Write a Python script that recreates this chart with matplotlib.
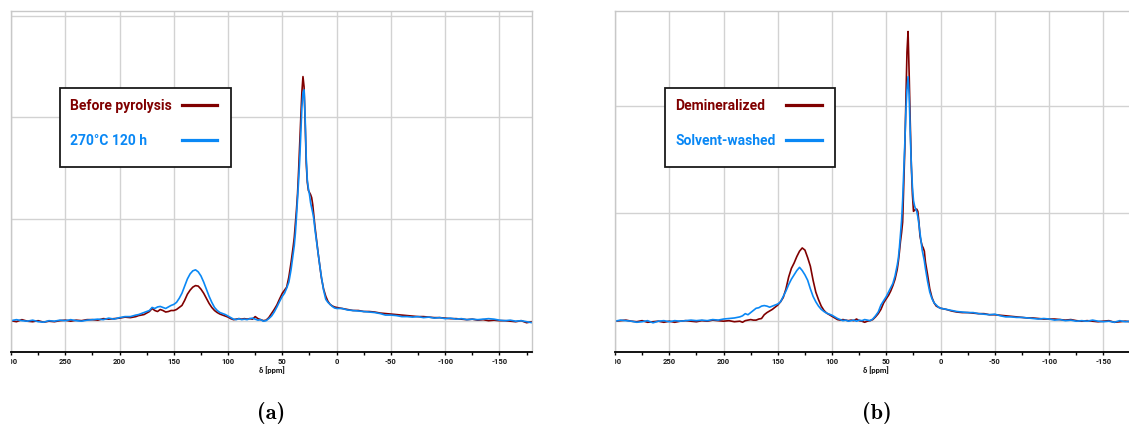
import os
import matplotlib
matplotlib.use("Agg")
import matplotlib.pyplot as plt
from matplotlib.patches import Rectangle
from matplotlib.lines import Line2D
from matplotlib.ticker import MultipleLocator
from matplotlib.transforms import Bbox, TransformedBbox
from matplotlib.font_manager import FontProperties

plt.rcParams["font.family"] = ["Roboto", "DejaVu Sans"]
plt.rcParams["axes.unicode_minus"] = False

# chemical shift sampling (ppm), shared by all spectra
ppm = [300, 295, 290, 285, 280, 275, 270, 265, 260, 255, 250, 245, 240, 235, 230, 225,
       220, 215, 210, 205, 200, 195, 190,
       185, 182.5, 180, 177.5, 175, 172.5, 170, 167.5, 165, 162.5, 160, 157.5, 155, 152.5,
       150, 147.5, 145, 142.5, 140, 137.5, 135, 132.5, 130, 127.5, 125, 122.5, 120, 117.5,
       115, 112.5, 110, 107.5, 105, 102.5, 100, 97.5, 95, 92.5, 90, 87.5, 85, 82.5, 80,
       77.5, 75, 72.5, 70, 67.5, 65, 62.5, 60, 57.5, 55, 52.5, 50,
       48, 46, 44, 42, 40, 39, 38, 37, 36, 35, 34, 33, 32, 31, 30, 29, 28, 27, 26, 25, 24,
       23, 22, 21, 20, 19, 18, 17, 16, 15, 14, 12, 10, 8, 6, 4, 2, 0,
       -5, -10, -15, -20, -25, -30, -35, -40, -45, -50, -55, -60, -65, -70, -75, -80, -85,
       -90, -95, -100, -105, -110, -115, -120, -125, -130, -135, -140, -145, -150, -155,
       -160, -165, -170, -175, -180]

# (a) before pyrolysis vs. 270 °C / 120 h
a_before = [0.00, -0.01, 0.01, -0.005, -0.01, 0.0, -0.015, -0.005, -0.01, 0.0, 0.005, -0.005,
            0.005, 0.0, 0.01, 0.01, 0.005, 0.02, 0.015, 0.02, 0.025, 0.035, 0.03,
            0.04, 0.05, 0.055, 0.06, 0.075, 0.09, 0.12, 0.10, 0.09, 0.11, 0.10, 0.085, 0.09, 0.10,
            0.10, 0.11, 0.13, 0.15, 0.20, 0.26, 0.30, 0.33, 0.345, 0.34, 0.31, 0.27, 0.22, 0.17,
            0.13, 0.10, 0.08, 0.065, 0.055, 0.045, 0.035, 0.02, 0.01, 0.015, 0.02, 0.015, 0.02,
            0.015, 0.02, 0.015, 0.04, 0.02, 0.01, 0.0, 0.005, 0.03, 0.07, 0.11, 0.155, 0.215, 0.27,
            0.30, 0.33, 0.43, 0.57, 0.73, 0.82, 0.95, 1.09, 1.25, 1.48, 1.75, 2.0, 2.25, 2.40,
            2.30, 1.95, 1.55, 1.36, 1.28, 1.26, 1.24, 1.21, 1.14, 1.03, 0.93, 0.84, 0.75, 0.66,
            0.58, 0.50, 0.42, 0.31, 0.24, 0.19, 0.16, 0.145, 0.135, 0.13,
            0.12, 0.11, 0.10, 0.10, 0.09, 0.09, 0.085, 0.075, 0.07, 0.065, 0.06, 0.055, 0.05,
            0.045, 0.04, 0.04, 0.035, 0.03, 0.03, 0.025, 0.02, 0.02, 0.015, 0.01, 0.015, 0.005,
            0.01, 0.0, 0.005, 0.0, 0.0, -0.005, -0.01, 0.0, -0.02, -0.01]
a_heated = [0.0, 0.01, 0.0, -0.005, 0.005, -0.01, -0.015, 0.0, -0.005, 0.005, 0.0, 0.01,
            0.0, -0.005, 0.005, 0.01, 0.015, 0.01, 0.025, 0.015, 0.03, 0.04, 0.04,
            0.055, 0.06, 0.07, 0.08, 0.09, 0.10, 0.13, 0.12, 0.135, 0.14, 0.13, 0.12, 0.135, 0.15,
            0.16, 0.18, 0.22, 0.27, 0.34, 0.41, 0.46, 0.49, 0.50, 0.48, 0.44, 0.38, 0.31, 0.24,
            0.18, 0.13, 0.10, 0.08, 0.07, 0.06, 0.045, 0.03, 0.015, 0.01, 0.02, 0.01, 0.015,
            0.01, 0.02, 0.025, 0.015, 0.005, 0.01, -0.005, 0.0, 0.02, 0.045, 0.085, 0.135, 0.19,
            0.24,
            0.27, 0.32, 0.38, 0.50, 0.66, 0.74, 0.86, 1.02, 1.2, 1.38, 1.58, 1.85, 2.10, 2.24,
            2.27, 2.0, 1.6, 1.38, 1.30, 1.24, 1.16, 1.11, 1.06, 1.0, 0.90, 0.82, 0.74, 0.66,
            0.58, 0.50, 0.43, 0.30, 0.21, 0.18, 0.16, 0.14, 0.125, 0.12,
            0.12, 0.105, 0.10, 0.095, 0.09, 0.085, 0.08, 0.07, 0.055, 0.055, 0.05, 0.04, 0.04,
            0.035, 0.04, 0.03, 0.035, 0.025, 0.03, 0.02, 0.025, 0.015, 0.02, 0.01, 0.015, 0.01,
            0.015, 0.02, 0.015, 0.005, 0.0, 0.005, -0.005, 0.0, -0.01, -0.02]

# (b) demineralized vs. solvent-washed
b_demin = [0.0, 0.005, 0.01, 0.0, -0.005, 0.005, -0.01, -0.005, 0.0, -0.01, 0.0, -0.01,
           0.0, 0.005, 0.0, -0.005, 0.005, 0.0, 0.01, 0.005, 0.0, 0.005, -0.005,
           0.0, -0.01, 0.005, 0.01, 0.015, 0.01, 0.01, 0.02, 0.025, 0.06, 0.08, 0.095, 0.11, 0.13,
           0.15, 0.18, 0.22, 0.30, 0.41, 0.49, 0.54, 0.60, 0.65, 0.68, 0.66, 0.59, 0.51, 0.38,
           0.27, 0.20, 0.14, 0.10, 0.075, 0.06, 0.045, 0.03, 0.015, 0.01, 0.015, 0.01, 0.005,
           0.01, 0.005, 0.02, 0.005, 0.0, -0.01, 0.0, 0.005, 0.015, 0.04, 0.07, 0.11, 0.17, 0.21,
           0.24, 0.28, 0.33, 0.39, 0.48, 0.55, 0.64, 0.74, 0.82, 0.92, 1.25, 1.6, 2.05, 2.50,
           2.69, 2.3, 1.85, 1.45, 1.18, 1.02, 1.03, 1.04, 1.04, 1.02, 0.92, 0.79, 0.74, 0.70,
           0.68, 0.65, 0.55, 0.43, 0.30, 0.22, 0.17, 0.14, 0.13, 0.12,
           0.11, 0.095, 0.085, 0.08, 0.08, 0.075, 0.07, 0.07, 0.06, 0.06, 0.055, 0.05, 0.045,
           0.04, 0.035, 0.03, 0.03, 0.025, 0.02, 0.02, 0.02, 0.015, 0.01, 0.015, 0.005, 0.0,
           0.005, 0.0, -0.005, 0.0, 0.005, -0.01, -0.005, 0.0, -0.005, 0.0]
b_solvent = [0.0, 0.01, 0.005, 0.0, -0.01, -0.005, 0.005, -0.015, 0.0, 0.005, -0.005, 0.005,
             0.0, 0.005, 0.01, 0.005, 0.01, 0.005, 0.015, 0.01, 0.02, 0.025, 0.03,
             0.04, 0.05, 0.07, 0.06, 0.08, 0.10, 0.12, 0.125, 0.14, 0.145, 0.14, 0.13, 0.14, 0.15,
             0.16, 0.18, 0.23, 0.28, 0.34, 0.39, 0.43, 0.47, 0.50, 0.47, 0.43, 0.38, 0.30, 0.23,
             0.18, 0.14, 0.11, 0.09, 0.075, 0.065, 0.055, 0.04, 0.025, 0.015, 0.005, 0.01, 0.0,
             0.005, 0.01, 0.0, 0.01, 0.005, 0.015, 0.01, 0.005, 0.02, 0.05, 0.085, 0.15, 0.19,
             0.23,
             0.27, 0.31, 0.35, 0.42, 0.52, 0.58, 0.68, 0.80, 0.93, 1.12, 1.38, 1.65, 1.95, 2.15,
             2.27, 2.1, 1.75, 1.45, 1.25, 1.12, 1.07, 1.04, 1.02, 0.97, 0.90, 0.82, 0.74, 0.66,
             0.61, 0.56, 0.49, 0.37, 0.27, 0.21, 0.17, 0.15, 0.13, 0.12,
             0.11, 0.10, 0.09, 0.085, 0.08, 0.08, 0.07, 0.065, 0.06, 0.065, 0.05, 0.04, 0.04,
             0.035, 0.035, 0.03, 0.025, 0.02, 0.025, 0.02, 0.01, 0.015, 0.005, 0.01, 0.0, 0.005,
             0.0, 0.01, 0.0, -0.005, 0.0, -0.01, 0.005, -0.005, 0.0, -0.01]

labels_a = ["Before pyrolysis", "270°C 120 h"]
labels_b = ["Demineralized", "Solvent-washed"]
captions = ["(a)", "(b)"]
RED = "#800000"
BLUE = "#0a88f5"

# Computer Modern bold shipped with matplotlib, for the sub-figure captions
cm_bold = FontProperties(fname=os.path.join(matplotlib.get_data_path(),
                                            "fonts", "ttf", "cmb10.ttf"), size=16)

W, H = 1129, 425
fig = plt.figure(figsize=(W / 100, H / 100), dpi=100)


def fx(px):
    return px / W


def fy(py):
    return 1 - py / H


def make_axes(left_px, ylim, series, labels, key_box, text_x, line_x, caption, cap_x):
    ax = fig.add_axes([fx(left_px), fy(352), 521 / W, 341 / H])
    ax.set_axisbelow(True)
    ax.xaxis.set_major_locator(MultipleLocator(50))
    ax.xaxis.set_minor_locator(MultipleLocator(25))
    ax.set_yticks([0, 1, 2, 3])
    ax.set_xlim(300, -180)
    ax.set_ylim(*ylim)
    ax.grid(True, which="major", color="#d2d2d2", lw=1.0)
    ax.tick_params(axis="y", left=False, labelleft=False)
    ax.tick_params(axis="x", which="major", length=2.5, width=1.0, color="black",
                   labelsize=5.5, pad=1.5, labelcolor="#1a1a1a")
    ax.tick_params(axis="x", which="minor", length=2.0, width=1.0, color="black")
    for lbl in ax.get_xticklabels():
        lbl.set_fontweight("bold")
    for side in ("left", "top", "right"):
        ax.spines[side].set_color("#c8c8c8")
        ax.spines[side].set_linewidth(1.0)
    ax.spines["bottom"].set_color("black")
    ax.spines["bottom"].set_linewidth(1.3)
    ax.set_xlabel("δ [ppm]", fontsize=5.5, labelpad=0.8, fontweight="bold", color="#1a1a1a")

    for values, color in zip(series, (RED, BLUE)):
        ax.plot(ppm, values, color=color, lw=1.2)

    # key box
    x0, y0, x1, y1 = key_box
    fig.add_artist(Rectangle((fx(x0), fy(y1)), (x1 - x0) / W, (y1 - y0) / H,
                             transform=fig.transFigure, facecolor="white",
                             edgecolor="#1a1a1a", lw=1.3, zorder=5))
    for label, color, yb, yl in zip(labels, (RED, BLUE), (110, 145), (105, 140)):
        fig.text(fx(text_x), fy(yb), label, color=color, fontsize=10, fontweight="bold",
                 ha="left", va="baseline", zorder=6)
        fig.add_artist(Line2D([fx(line_x[0]), fx(line_x[1])], [fy(yl), fy(yl)],
                              transform=fig.transFigure, color=color, lw=2.3, zorder=6))

    fig.text(fx(cap_x), fy(413), caption, fontproperties=cm_bold,
             ha="center", va="center")
    return ax


ax_a = make_axes(11, (-0.308, 3.045), (a_before, a_heated), labels_a,
                 (60, 88, 231, 167), 70, (182, 217), captions[0], 271)
ax_b = make_axes(615, (-0.286, 2.88), (b_demin, b_solvent), labels_b,
                 (665, 88, 835, 167), 675, (786, 822), captions[1], 877)

# keep the tick labels inside the horizontal extent of each axes
fig.canvas.draw()
for ax in (ax_a, ax_b):
    clip = TransformedBbox(Bbox([[0, -1], [1, 1]]), ax.transAxes)
    for lbl in ax.get_xticklabels():
        lbl.set_clip_box(clip)
        lbl.set_clip_on(True)

fig.savefig("out.png", dpi=100)
